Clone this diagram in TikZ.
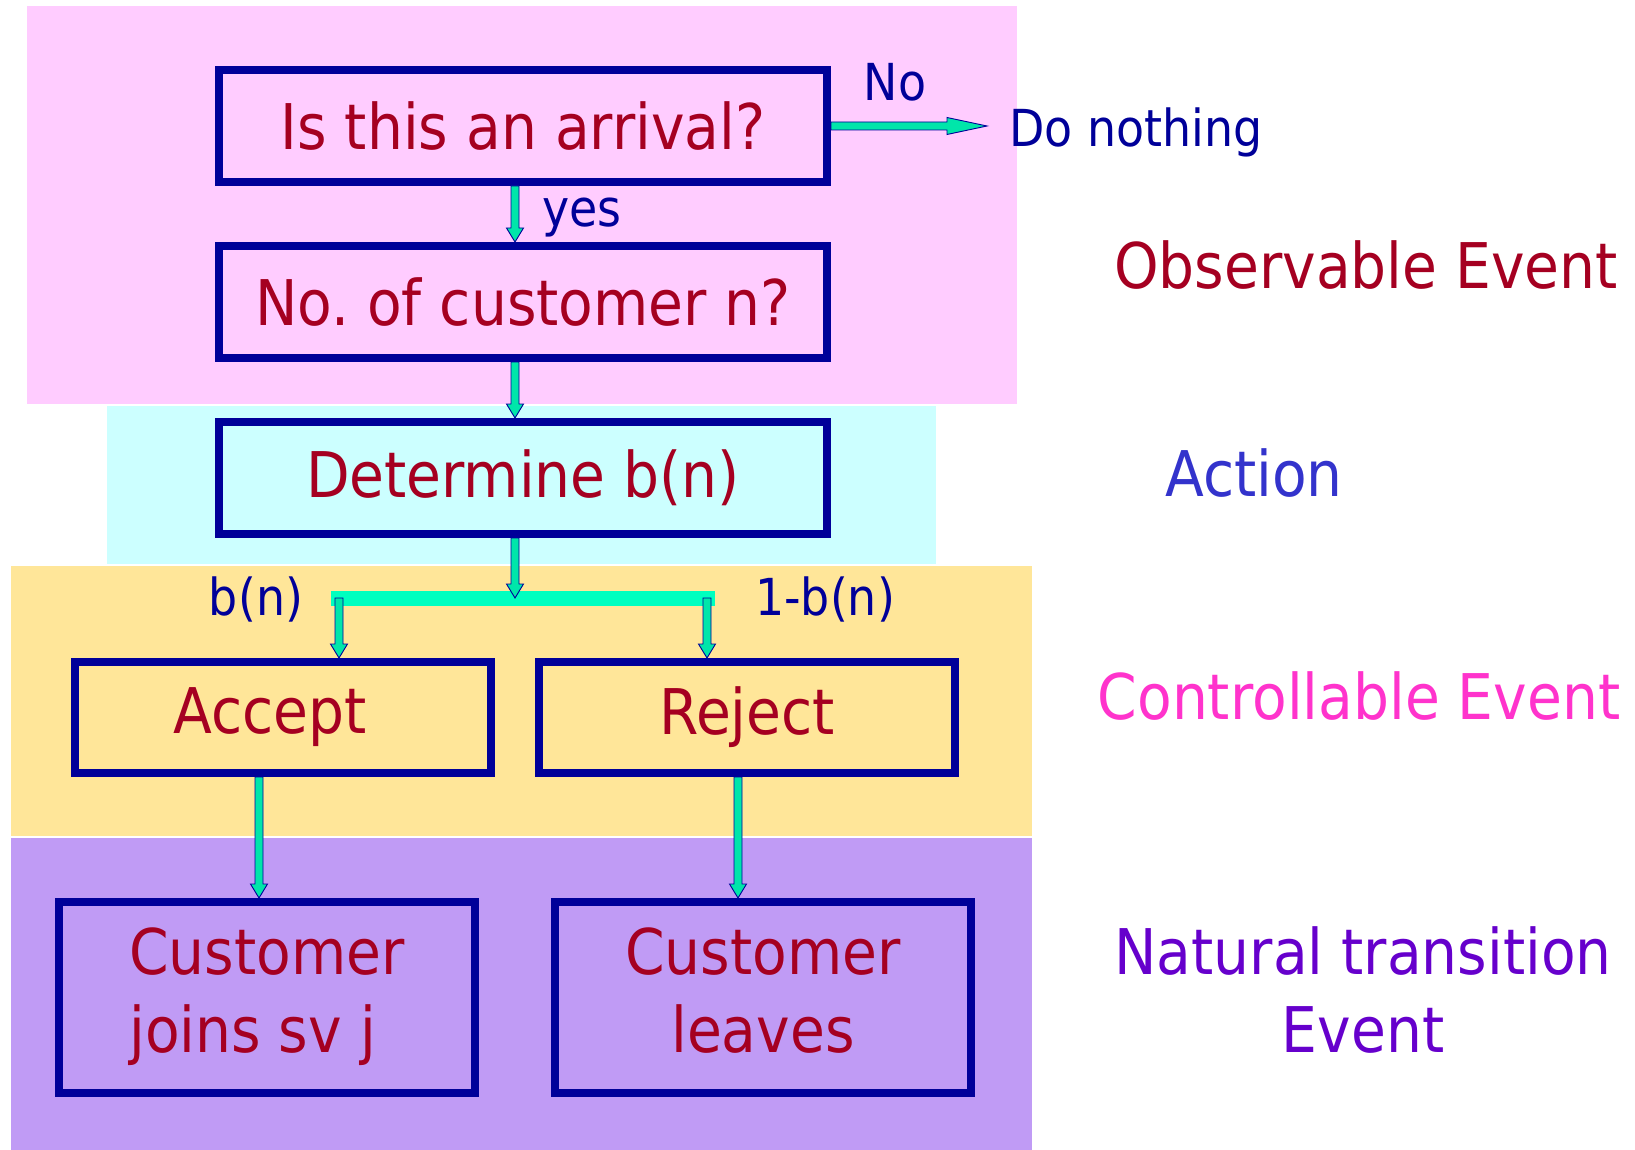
\documentclass[tikz,border=0pt]{standalone}
\usepackage{fontspec}
\setmainfont{DejaVu Sans}[FakeStretch=0.9]
\usetikzlibrary{calc}
\frenchspacing

\definecolor{pinkbg}{HTML}{FFCCFF}
\definecolor{cyanbg}{HTML}{CCFFFF}
\definecolor{yellowbg}{HTML}{FFE699}
\definecolor{violetbg}{HTML}{C09BF5}
\definecolor{boxline}{HTML}{000099}
\definecolor{boxtext}{HTML}{A50021}
\definecolor{labeltext}{HTML}{000099}
\definecolor{actiontext}{HTML}{3333CC}
\definecolor{ctrltext}{HTML}{FF33CC}
\definecolor{naturaltext}{HTML}{6600CC}
\definecolor{arrowfill}{HTML}{00E6AA}
\definecolor{barfill}{HTML}{00FFBF}

\newcommand\flowboxfont{\fontsize{63}{78}\selectfont}
\newcommand\flowlabelfont{\fontsize{51}{60}\selectfont}

\tikzset{
  headlen/.store in=\arrowheadlen, headlen=14pt,
  % block arrow: outlined, filled shaft with a triangular head
  blockarrow/.style={draw=boxline, line width=0.9pt, fill=arrowfill,
    to path={
      let \p1=(\tikztostart), \p2=(\tikztotarget),
          \p3=($(\p2)!\arrowheadlen!(\p1)$)
      in ($(\p1)!4pt!90:(\p2)$) -- ($(\p3)!4pt!-90:(\p1)$)
         -- ($(\p3)!8.5pt!-90:(\p1)$) -- (\p2)
         -- ($(\p3)!8.5pt!90:(\p1)$) -- ($(\p3)!4pt!90:(\p1)$)
         -- ($(\p1)!4pt!-90:(\p2)$) -- cycle
    }},
  flowbox/.style={draw=boxline, line width=8pt, rectangle, inner sep=0pt,
    text=boxtext, font=\flowboxfont},
  flowlabel/.style={text=labeltext, font=\flowlabelfont, anchor=base, inner sep=0pt},
  sidelabel/.style={font=\flowboxfont, anchor=base, inner sep=0pt}
}

\begin{document}
\begin{tikzpicture}[x=1pt, y=-1pt]
\useasboundingbox (0,0) rectangle (1635,1150);

% coloured bands
\fill[pinkbg]   (27,6)   rectangle (1017,404);
\fill[cyanbg]   (107,406) rectangle (936,564);
\fill[yellowbg] (11,566) rectangle (1032,836);
\fill[violetbg] (11,838) rectangle (1032,1150);

% flow boxes
\node[flowbox, minimum width=608, minimum height=112] (arrival) at (523,126) {Is this an arrival?};
\node[flowbox, minimum width=608, minimum height=112] (count) at (523,302) {No. of customer n?};
\node[flowbox, minimum width=608, minimum height=112] (determine) at (523,478) {Determine b(n)};
\node[flowbox, minimum width=416, minimum height=111] (accept) at (283,717.5) {Accept\hspace*{26pt}};
\node[flowbox, minimum width=416, minimum height=111] (reject) at (747,717.5) {Reject};
\node[flowbox, minimum width=416, minimum height=191, align=left, text depth=15pt] (joins) at (267,997.5) {Customer\\joins sv j};
\node[flowbox, minimum width=416, minimum height=191, align=center, text depth=15pt] (leaves) at (763,997.5) {Customer\\leaves};

% split bar
\node[fill=barfill, minimum width=384, minimum height=15, inner sep=0pt] (split) at (523,598) {};

% x positions of the vertical connectors
\coordinate (xmain) at (515,0);
\coordinate (xleft) at (339,0);
\coordinate (xright) at (707,0);
\coordinate (xacc) at (259,0);
\coordinate (xrej) at (738,0);
\coordinate (noend) at (987,126);

% connectors
\path[blockarrow] (arrival.south -| xmain) to (count.north -| xmain);
\path[blockarrow] (count.south -| xmain) to (determine.north -| xmain);
\path[blockarrow] (determine.south -| xmain) to (split.center -| xmain);
\path[blockarrow] (split.center -| xleft) to (accept.north -| xleft);
\path[blockarrow] (split.center -| xright) to (reject.north -| xright);
\path[blockarrow] (accept.south -| xacc) to (joins.north -| xacc);
\path[blockarrow] (reject.south -| xrej) to (leaves.north -| xrej);
\path[blockarrow, headlen=40pt] (arrival.east) to (noend);

% connector labels
\node[flowlabel] (nolbl) at (895,101) {No};
\node[flowlabel, anchor=base west] (nothing) at (1009,147) {Do nothing};
\node[flowlabel] (yeslbl) at (582,227) {yes};
\node[flowlabel] (bnlbl) at (256,615) {b(n)};
\node[flowlabel] (onembn) at (825,615) {1-b(n)};

% event categories
\node[sidelabel, text=boxtext] (observable) at (1366,288) {Observable Event};
\node[sidelabel, text=actiontext] (action) at (1254,496) {Action};
\node[sidelabel, text=ctrltext] (controllable) at (1359,719) {Controllable Event};
\node[font=\flowboxfont, text=naturaltext, align=center, inner sep=0pt] (natural) at (1363,990) {Natural transition\\Event};
\end{tikzpicture}
\end{document}
